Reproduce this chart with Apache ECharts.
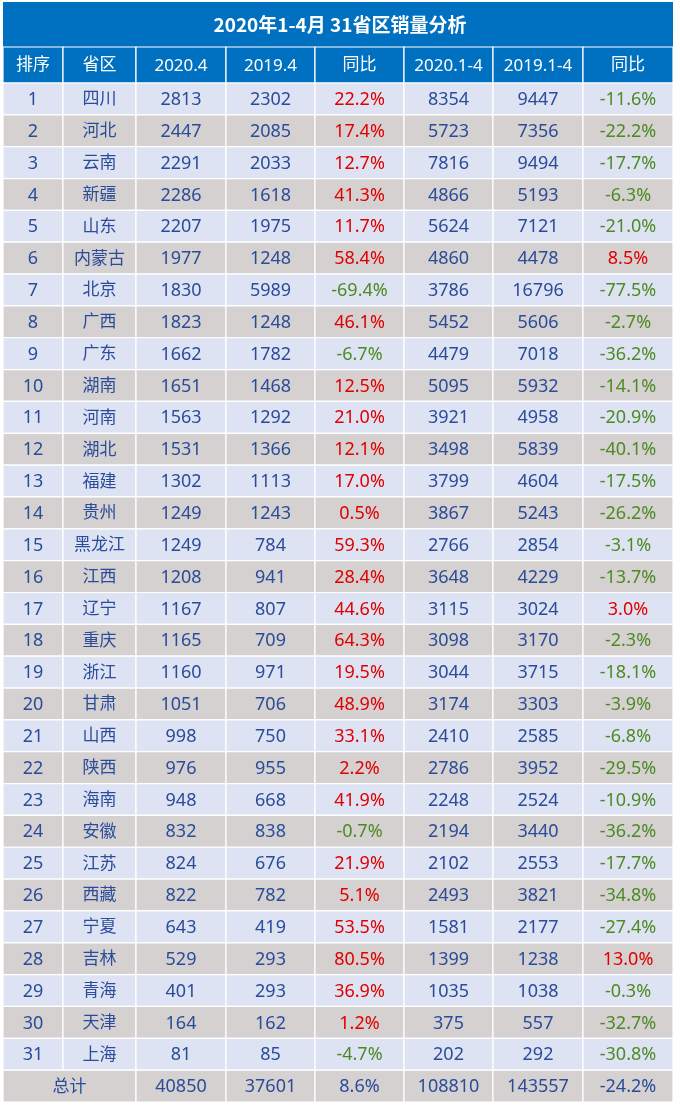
<!DOCTYPE html>
<html><head><meta charset="utf-8">
<script src="https://cdn.jsdelivr.net/npm/echarts@6/dist/echarts.min.js"></script>
<style>html,body{margin:0;padding:0;background:#fff}#c{width:680px;height:1106px}</style>
</head><body><div id="c"></div>
<script>
const titleText = '2020年1-4月 31省区销量分析';
const headers = ['排序','省区','2020.4','2019.4','同比','2020.1-4','2019.1-4','同比'];
const ranks = [1,2,3,4,5,6,7,8,9,10,11,12,13,14,15,16,17,18,19,20,21,22,23,24,25,26,27,28,29,30,31];
const provinces = ['四川','河北','云南','新疆','山东','内蒙古','北京','广西','广东','湖南','河南','湖北','福建','贵州','黑龙江','江西','辽宁','重庆','浙江','甘肃','山西','陕西','海南','安徽','江苏','西藏','宁夏','吉林','青海','天津','上海'];
const sales2020Apr = [2813,2447,2291,2286,2207,1977,1830,1823,1662,1651,1563,1531,1302,1249,1249,1208,1167,1165,1160,1051,998,976,948,832,824,822,643,529,401,164,81];
const sales2019Apr = [2302,2085,2033,1618,1975,1248,5989,1248,1782,1468,1292,1366,1113,1243,784,941,807,709,971,706,750,955,668,838,676,782,419,293,293,162,85];
const yoyApr = [22.2,17.4,12.7,41.3,11.7,58.4,-69.4,46.1,-6.7,12.5,21.0,12.1,17.0,0.5,59.3,28.4,44.6,64.3,19.5,48.9,33.1,2.2,41.9,-0.7,21.9,5.1,53.5,80.5,36.9,1.2,-4.7];
const sales2020Ytd = [8354,5723,7816,4866,5624,4860,3786,5452,4479,5095,3921,3498,3799,3867,2766,3648,3115,3098,3044,3174,2410,2786,2248,2194,2102,2493,1581,1399,1035,375,202];
const sales2019Ytd = [9447,7356,9494,5193,7121,4478,16796,5606,7018,5932,4958,5839,4604,5243,2854,4229,3024,3170,3715,3303,2585,3952,2524,3440,2553,3821,2177,1238,1038,557,292];
const yoyYtd = [-11.6,-22.2,-17.7,-6.3,-21.0,8.5,-77.5,-2.7,-36.2,-14.1,-20.9,-40.1,-17.5,-26.2,-3.1,-13.7,3.0,-2.3,-18.1,-3.9,-6.8,-29.5,-10.9,-36.2,-17.7,-34.8,-27.4,13.0,-0.3,-32.7,-30.8];
const totalLabel = '总计';
const totalValues = [40850,37601,8.6,108810,143557,-24.2];

// layout / style
const colWidths = [60,73,90,89,89,89,90,90];
const edges = [0]; colWidths.forEach(w => edges.push(edges[edges.length-1] + w));
const TOTALW = edges[edges.length-1];
const BLUE = '#0070c0', ODD = '#dde3f3', EVEN = '#d4d1d0';
const TXT = '#2a4c9a', RED = '#e00000', GREEN = '#4e8a24';
const NUMFONT = "'Noto Sans','Noto Sans CJK SC',sans-serif";
const CJKFONT = "'Noto Sans CJK SC','Noto Sans',sans-serif";
const pct = v => v.toFixed(1) + '%';

function rowCells(i) {
  if (i < ranks.length) {
    return [
      {t: String(ranks[i])}, {t: provinces[i], cjk: true},
      {t: String(sales2020Apr[i])}, {t: String(sales2019Apr[i])},
      {t: pct(yoyApr[i]), c: yoyApr[i] >= 0 ? RED : GREEN},
      {t: String(sales2020Ytd[i])}, {t: String(sales2019Ytd[i])},
      {t: pct(yoyYtd[i]), c: yoyYtd[i] >= 0 ? RED : GREEN}
    ];
  }
  return [
    {t: totalLabel, cjk: true, span: 2},
    {t: String(totalValues[0])}, {t: String(totalValues[1])}, {t: pct(totalValues[2])},
    {t: String(totalValues[3])}, {t: String(totalValues[4])}, {t: pct(totalValues[5])}
  ];
}

function cellsRender(getCells, bgFn, defaultFill, fontFn) {
  return function (params, api) {
    const idx = params.dataIndex;
    const cy = api.coord([0, api.value(0)])[1];
    const h = api.size([0, 1])[1];
    const cells = getCells(idx);
    const children = [];
    let c = 0;
    cells.forEach(cell => {
      const span = cell.span || 1;
      const x0 = api.coord([edges[c], api.value(0)])[0];
      const x1 = api.coord([edges[c + span], api.value(0)])[0];
      c += span;
      children.push({type: 'rect', shape: {x: x0, y: cy - h / 2, width: x1 - x0, height: h},
        style: {fill: bgFn(idx), stroke: '#ffffff', lineWidth: 1.2}});
      children.push({type: 'text', style: {x: (x0 + x1) / 2, y: cy + (cell.cjk ? -1 : 1), text: cell.t,
        fill: cell.c || defaultFill, align: 'center', verticalAlign: 'middle', font: fontFn(cell)}});
    });
    return {type: 'group', children};
  };
}

const rowCats = ranks.map(String).concat([totalLabel]);
const chart = echarts.init(document.getElementById('c'), null, {renderer: 'canvas'});
chart.setOption({
  animation: false,
  backgroundColor: '#ffffff',
  title: {text: titleText, left: 'center', top: 10,
    textStyle: {color: '#ffffff', fontSize: 19, fontWeight: 'bold', fontFamily: CJKFONT}},
  graphic: [{type: 'rect', z: -1, shape: {x: 3, y: 2, width: 670, height: 45}, style: {fill: BLUE}}],
  grid: [
    {left: 3, width: 670, top: 47, height: 36},
    {left: 3, width: 670, top: 83, height: 1019}
  ],
  xAxis: [
    {gridIndex: 0, type: 'value', min: 0, max: TOTALW, show: false},
    {gridIndex: 1, type: 'value', min: 0, max: TOTALW, show: false}
  ],
  yAxis: [
    {gridIndex: 0, type: 'category', data: ['h'], show: false},
    {gridIndex: 1, type: 'category', data: rowCats, inverse: true, show: false}
  ],
  series: [
    {type: 'custom', xAxisIndex: 0, yAxisIndex: 0, data: [[0]], encode: {y: 0},
      renderItem: cellsRender(() => headers.map(h => ({t: h, cjk: /[\u4e00-\u9fff]/.test(h)})),
        () => BLUE, '#ffffff', cell => (cell.cjk ? '17px ' + CJKFONT : '17px ' + NUMFONT))},
    {type: 'custom', xAxisIndex: 1, yAxisIndex: 1, data: rowCats.map((_, i) => [i]), encode: {y: 0},
      renderItem: cellsRender(rowCells, i => (i === ranks.length ? EVEN : (i % 2 === 0 ? ODD : EVEN)), TXT,
        cell => (cell.cjk ? '17px ' + CJKFONT : '18px ' + NUMFONT))}
  ]
});
</script></body></html>
